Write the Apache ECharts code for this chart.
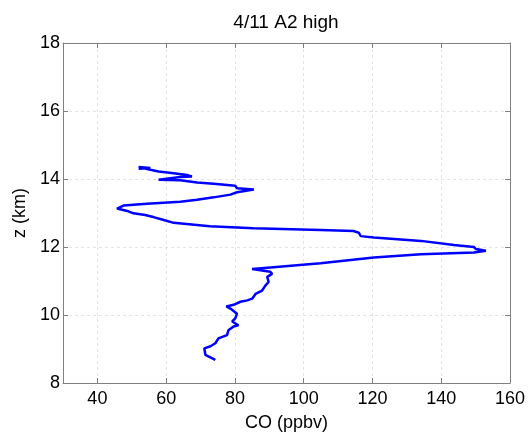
<!DOCTYPE html>
<html>
<head>
<meta charset="utf-8">
<script src="https://cdn.jsdelivr.net/npm/echarts@6/dist/echarts.min.js"></script>
<style>
  html, body { margin: 0; padding: 0; background: #fff; }
  #chart { width: 532px; height: 437px; }
</style>
</head>
<body>
<div id="chart"></div>
<script>
// CO mixing ratio (ppbv) against altitude (km) bottom to top
const coValues = [
  74.3, 71.4, 71.1, 72.9, 74.3, 75.2, 77.7, 78.1, 79.6, 81.0,
  79.2, 80.1, 80.6, 78.7, 77.5, 79.6, 81.6, 83.6, 85.0, 86.0,
  87.9, 88.9, 89.8, 89.4, 90.8, 90.3, 85.0, 90.3, 104.9, 120.4,
  134.1, 149.5, 153.0, 150.1, 149.5, 143.7, 134.1, 120.4, 116.6, 116.0,
  114.5, 104.9, 85.4, 72.7, 62.2, 58.8, 56.3, 53.9, 50.5, 49.0,
  45.7, 45.2, 47.6, 54.4, 64.1, 69.0, 73.8, 78.7, 80.6, 85.5,
  80.6, 80.1, 73.8, 69.0, 64.1, 57.8, 58.3, 64.1, 67.5, 68.0,
  66.1, 62.2, 57.8, 55.4, 52.0, 52.4, 55.4, 52.0
];
const altitudes = [
  8.68, 8.83, 9.02, 9.08, 9.17, 9.31, 9.41, 9.55, 9.66, 9.70,
  9.81, 9.90, 10.04, 10.19, 10.25, 10.30, 10.39, 10.43, 10.48, 10.62,
  10.72, 10.87, 10.97, 11.12, 11.21, 11.27, 11.35, 11.40, 11.52, 11.69,
  11.79, 11.84, 11.89, 11.94, 12.00, 12.06, 12.18, 12.28, 12.32, 12.42,
  12.47, 12.50, 12.55, 12.61, 12.71, 12.81, 12.88, 12.94, 12.99, 13.05,
  13.13, 13.17, 13.22, 13.27, 13.33, 13.39, 13.46, 13.54, 13.61, 13.69,
  13.73, 13.80, 13.86, 13.90, 13.96, 13.98, 14.03, 14.06, 14.07, 14.12,
  14.12, 14.17, 14.22, 14.27, 14.35, 14.37, 14.32, 14.30
];
const xTicks = [40, 60, 80, 100, 120, 140, 160];

const profile = coValues.map((v, i) => [v, altitudes[i]]);

const chart = echarts.init(document.getElementById('chart'));
const font = 'Liberation Sans, Arial, sans-serif';
const axisGray = '#808080';

const lineStyle = { color: axisGray, width: 1 };
const gridLine = { show: true, lineStyle: { color: '#e4e4e4', type: [3, 3], width: 1 } };

chart.setOption({
  animation: false,
  title: {
    text: '4/11 A2 high',
    left: 281,
    top: 8,
    textAlign: 'center',
    textStyle: { fontFamily: font, fontSize: 19, fontWeight: 'normal', color: '#000' }
  },
  grid: { left: 63, right: 22, top: 43, bottom: 52, show: false },
  xAxis: [
    {
      type: 'value', min: 30, max: 160, position: 'bottom',
      name: 'CO (ppbv)', nameLocation: 'middle', nameGap: 31,
      nameTextStyle: { fontFamily: font, fontSize: 18, color: '#000' },
      axisLine: { show: true, lineStyle },
      axisTick: { show: true, inside: true, length: 5, lineStyle, customValues: xTicks },
      axisLabel: { customValues: xTicks, fontFamily: font, fontSize: 18, color: '#000', margin: 7 },
      splitLine: gridLine
    },
    {
      type: 'value', min: 30, max: 160, position: 'top',
      axisLine: { show: true, lineStyle },
      axisTick: { show: true, inside: true, length: 5, lineStyle, customValues: xTicks },
      axisLabel: { show: false },
      splitLine: { show: false }
    }
  ],
  yAxis: [
    {
      type: 'value', min: 8, max: 18, interval: 2, position: 'left',
      name: 'z (km)', nameLocation: 'middle', nameGap: 31, nameRotate: 90,
      nameTextStyle: { fontFamily: font, fontSize: 18, color: '#000' },
      axisLine: { show: true, lineStyle },
      axisTick: { show: true, inside: true, length: 5, lineStyle },
      axisLabel: { fontFamily: font, fontSize: 18, color: '#000', margin: 3 },
      splitLine: gridLine
    },
    {
      type: 'value', min: 8, max: 18, interval: 2, position: 'right',
      axisLine: { show: true, lineStyle },
      axisTick: { show: true, inside: true, length: 5, lineStyle },
      axisLabel: { show: false },
      splitLine: { show: false }
    }
  ],
  series: [
    {
      type: 'line',
      xAxisIndex: 0,
      yAxisIndex: 0,
      data: profile,
      showSymbol: false,
      symbol: 'none',
      lineStyle: { color: '#0000ff', width: 2.5 },
      z: 5
    }
  ]
});
</script>
</body>
</html>
